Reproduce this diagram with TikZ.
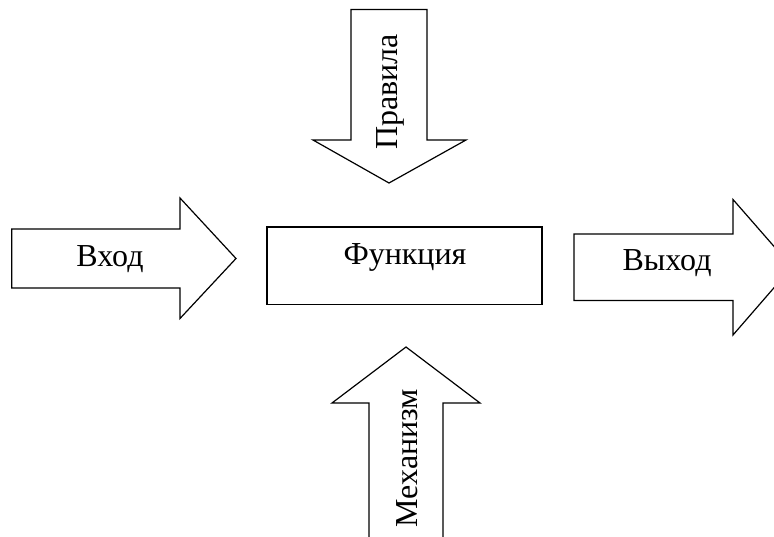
\documentclass[tikz,border=0pt]{standalone}
\usepackage{fontspec}
\setmainfont{Liberation Serif}
\usetikzlibrary{positioning}

\begin{document}
\begin{tikzpicture}[x=1pt,y=-1pt,line width=1.2pt,
	block/.style={draw,line join=miter},
	lbl/.style={font=\fontsize{32}{38}\selectfont,inner sep=0pt}]
	
	\clip (0,0) rectangle (774,537);
	
	% function box
	\draw[block] (267,227) rectangle (542,304.5);
	\node[lbl] (F) at (405,257) {Функция};
	
	% input
	\draw[block] (11.7,229) -- (180,229) -- (180,198) -- (236,258.5) -- (180,318.5) -- (180,288) -- (11.7,288) -- cycle;
	\node[lbl] (In) at (110,259) {Вход};
	
	% output
	\draw[block] (574,234) -- (733,234) -- (733,199.5) -- (792,267) -- (733,335) -- (733,300.5) -- (574,300.5) -- cycle;
	\node[lbl] (Out) at (667,263) {Выход};
	
	% rules
	\draw[block] (351,9.5) -- (427,9.5) -- (427,140) -- (466,140) -- (389,183) -- (313,140) -- (351,140) -- cycle;
	\node[lbl,rotate=90] (R) at (390,92) {Правила};
	
	% mechanism
	\draw[block] (369,545) -- (369,403) -- (332,403) -- (406,347) -- (480,403) -- (443,403) -- (443,545);
	\node[lbl,rotate=90] (M) at (407,458) {Механизм};
\end{tikzpicture}
\end{document}
